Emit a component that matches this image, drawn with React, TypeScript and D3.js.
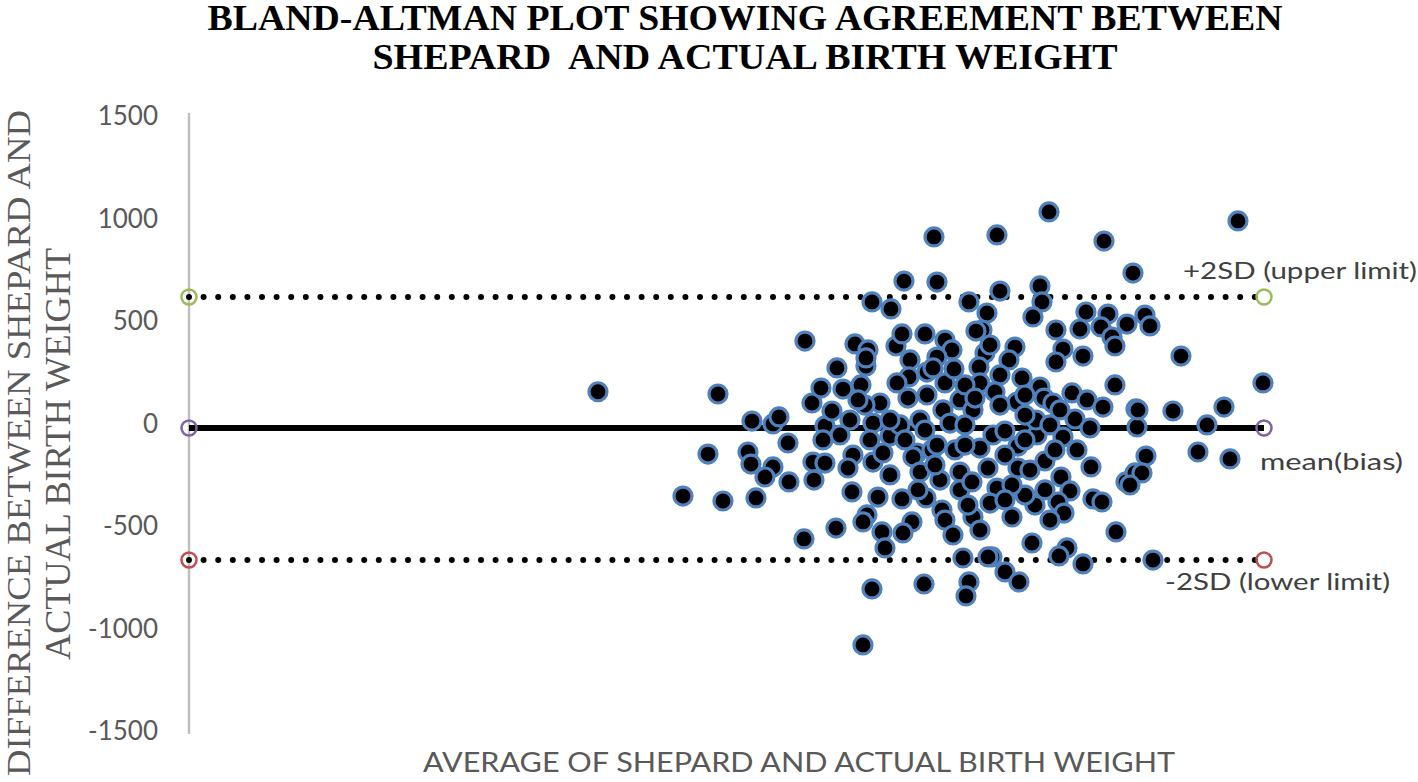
import React from "react";
import * as d3 from "d3";

// ---- data ----
const averageWeight: number[] = [
  1636, 2116, 1976, 2136, 2076, 2252, 2336, 2360, 2396, 2236,
  2248, 2336, 2304, 2400, 2268, 2464, 2492, 2528, 2496, 2500,
  2460, 2544, 2588, 2544, 2604, 2536, 2980, 3232, 2860, 2992,
  2732, 2808, 3244, 3120, 3192, 3172, 3148, 2664, 2716, 2708,
  2708, 2828, 2852, 2944, 3024, 3052, 2592, 2616, 2688, 2764,
  2704, 2572, 2644, 2736, 2884, 2880, 2832, 2992, 2952, 2876,
  2952, 3024, 3016, 3060, 2976, 3184, 3304, 3280, 3244, 3332,
  3160, 3164, 3224, 3404, 3420, 3312, 3084, 3136, 3440, 3660,
  3776, 3404, 3412, 3376, 3588, 3676, 3752, 3648, 3692, 3704,
  3468, 3564, 3576, 3496, 3468, 3456, 3532, 3592, 3656, 3704,
  3788, 3792, 3544, 3604, 3392, 3316, 3316, 3424, 3496, 3552,
  3608, 3488, 3524, 3476, 3500, 3616, 3652, 3708, 3748, 3784,
  3292, 3372, 3512, 3480, 3576, 3212, 3264, 3320, 3096, 3196,
  3120, 3108, 2940, 2732, 2696, 3856, 4196, 3824, 3844, 3968,
  4296, 3796, 3936, 4140, 4072, 4036, 4164, 3828, 3812, 3764,
  2652, 2656, 2636, 2736, 2776, 2804, 2804, 2756, 2712, 2696,
  2772, 2784, 2892, 2856, 2852, 2948, 2912, 2972, 3044, 2992,
  3064, 3216, 3164, 3196, 3084, 3004, 3084, 3132, 3232, 3012,
  3024, 3136, 3204, 3056, 3104, 2896, 2924, 3264, 3388, 3344,
  3104, 2924, 2844, 3444, 3264, 3364, 3424, 3384, 3344, 3292,
  3444, 3164, 3116, 3104, 3204, 3344, 3484, 2676, 2804, 2724,
  2864, 2944, 3144, 3244, 3344, 3464, 3264, 2984, 2916,
];

const difference: number[] = [
  155, 144, -354, -378, -149, 12, -2, 32, -95, -139,
  -198, -212, -261, -285, -363, 402, 100, 173, -188, -276,
  -563, -12, -510, -193, -56, -80, 910, 920, 695, 690,
  593, 559, 646, 593, 539, 456, 451, 388, 359, 280,
  320, 378, 437, 437, 407, 359, 271, 168, 188, 100,
  90, 61, 17, 2, 310, 227, 198, 324, 251, 124,
  139, 198, 66, 266, 271, 344, 373, 310, 237, 222,
  276, 198, 154, 178, 124, 105, 115, 66, 1032, 890,
  734, 671, 593, 520, 544, 534, 485, 471, 422, 378,
  456, 461, 329, 363, 300, 100, 149, 115, 80, 188,
  71, -17, 22, -22, -56, -110, -217, -183, -66, -129,
  -212, -261, -329, -383, -437, -368, -383, -529, -285, -241,
  -456, -583, -607, -646, -685, -651, -724, -773, -656, -651,
  -773, -841, -783, -807, -1080, -666, 988, 529, 476, 329,
  198, 66, 61, 80, -7, -139, -173, -159, -241, -300,
  -334, -154, -217, -188, -144, -61, -251, -359, -446, -480,
  -529, -607, -480, -534, -368, -363, -144, -129, 2, -105,
  -129, -56, -120, -217, -237, -276, -324, -285, -315, -422,
  -471, -456, -388, -544, -105, -163, -237, -37, 17, 41,
  -7, 17, -7, -7, -154, -227, -324, -398, -349, -300,
  -471, -520, -398, 188, 383, 139, 66, 115, 17, -80,
  -80, -32, 124, 90, -80, -129, -373, -202, -324,
];

const yTicks: number[] = [1500, 1000, 500, 0, -500, -1000, -1500];
const upperLimit = 617;
const meanBias = -22;
const lowerLimit = -666;
const xDomain: [number, number] = [0, 4300];
const yDomain: [number, number] = [-1500, 1500];

const titleLines = [
  "BLAND-ALTMAN PLOT SHOWING AGREEMENT BETWEEN",
  "SHEPARD  AND ACTUAL BIRTH WEIGHT",
];

export default function App() {
  const W = 1418;
  const H = 782;
  const x = d3.scaleLinear().domain(xDomain).range([189, 1264]);
  const y = d3.scaleLinear().domain(yDomain).range([731, 116]);

  const points = averageWeight.map((a, i) => ({ a, d: difference[i] }));

  const limits = [
    { v: upperLimit, color: "#9bbb59", dotted: true },
    { v: meanBias, color: "#8064a2", dotted: false },
    { v: lowerLimit, color: "#c0504d", dotted: true },
  ];

  const sans = "Lato, 'Open Sans', sans-serif";
  const serif = "'Liberation Serif', 'DejaVu Serif', serif";

  return (
    <svg
      width={W}
      height={H}
      style={{ position: "absolute", left: 0, top: 0, background: "#fff" }}
    >
      {/* title */}
      <text
        x={745}
        y={30}
        textAnchor="middle"
        fontFamily={serif}
        fontWeight="bold"
        fontSize={35}
        textLength={1075}
        lengthAdjust="spacingAndGlyphs"
        fill="#000"
      >
        {titleLines[0]}
      </text>
      <text
        x={745}
        y={69}
        textAnchor="middle"
        fontFamily={serif}
        fontWeight="bold"
        fontSize={35}
        textLength={745}
        lengthAdjust="spacingAndGlyphs"
        fill="#000"
        style={{ whiteSpace: "pre" }}
      >
        {titleLines[1]}
      </text>

      {/* y axis line */}
      <line
        x1={x(xDomain[0])}
        x2={x(xDomain[0])}
        y1={y(1500) - 3}
        y2={y(-1500) + 3}
        stroke="#bfbfbf"
        strokeWidth={2.5}
      />

      {/* y tick labels */}
      {yTicks.map((t) => (
        <text
          key={t}
          x={158}
          y={y(t) + 9}
          textAnchor="end"
          fontFamily={sans}
          fontSize={26}
          fill="#595959"
        >
          {t}
        </text>
      ))}

      {/* y axis title */}
      <g transform={`translate(30, 443) rotate(-90)`}>
        <text
          x={0}
          y={0}
          textAnchor="middle"
          fontFamily={serif}
          fontSize={33}
          textLength={666}
          lengthAdjust="spacingAndGlyphs"
          fill="#595959"
        >
          DIFFERENCE BETWEEN SHEPARD AND
        </text>
      </g>
      <g transform={`translate(70, 454) rotate(-90)`}>
        <text
          x={0}
          y={0}
          textAnchor="middle"
          fontFamily={serif}
          fontSize={35}
          textLength={412}
          lengthAdjust="spacingAndGlyphs"
          fill="#595959"
        >
          ACTUAL BIRTH WEIGHT
        </text>
      </g>

      {/* x axis title */}
      <text
        x={799}
        y={772}
        textAnchor="middle"
        fontFamily={sans}
        fontSize={27}
        textLength={752}
        lengthAdjust="spacingAndGlyphs"
        fill="#595959"
      >
        AVERAGE OF SHEPARD AND ACTUAL BIRTH WEIGHT
      </text>

      {/* limit lines */}
      {limits.map((l) => (
        <line
          key={"l" + l.v}
          x1={x(xDomain[0])}
          x2={x(xDomain[1])}
          y1={y(l.v)}
          y2={y(l.v)}
          stroke="#000"
          strokeWidth={6}
          strokeLinecap={l.dotted ? "round" : "butt"}
          strokeDasharray={l.dotted ? "0 14.6" : undefined}
        />
      ))}
      {limits.map((l) =>
        xDomain.map((xv) => (
          <circle
            key={"m" + l.v + "-" + xv}
            cx={x(xv)}
            cy={y(l.v)}
            r={7.5}
            fill="none"
            stroke={l.color}
            strokeWidth={2.5}
          />
        ))
      )}

      {/* scatter points */}
      {points.map((p, i) => (
        <circle
          key={i}
          cx={x(p.a)}
          cy={y(p.d)}
          r={9}
          fill="#000"
          stroke="#4f81bd"
          strokeWidth={3.2}
        />
      ))}

      {/* limit labels */}
      <text
        x={1183}
        y={279}
        fontFamily={sans}
        fontSize={24}
        textLength={234}
        lengthAdjust="spacingAndGlyphs"
        fill="#404040"
      >
        +2SD (upper limit)
      </text>
      <text
        x={1260}
        y={470}
        fontFamily={sans}
        fontSize={24}
        textLength={143}
        lengthAdjust="spacingAndGlyphs"
        fill="#404040"
      >
        mean(bias)
      </text>
      <text
        x={1165}
        y={590}
        fontFamily={sans}
        fontSize={24}
        textLength={225}
        lengthAdjust="spacingAndGlyphs"
        fill="#404040"
      >
        -2SD (lower limit)
      </text>
    </svg>
  );
}
